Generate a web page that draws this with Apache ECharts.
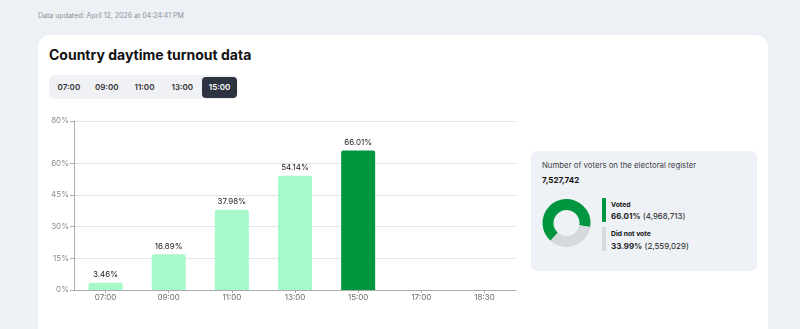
<!DOCTYPE html>
<html>
<head>
<meta charset="utf-8">
<script src="https://cdn.jsdelivr.net/npm/echarts@6/dist/echarts.min.js"></script>
<style>
  html, body { margin: 0; padding: 0; }
  body {
    width: 800px; height: 329px; overflow: hidden; position: relative;
    background: #edf0f5; font-family: Inter, "Noto Sans", sans-serif; color: #111;
  }
  .abs { position: absolute; white-space: nowrap; }
  #updated { left: 38px; top: 11px; font-size: 7px; color: #8a9099; line-height: 10px; }
  #card { left: 38px; top: 35px; width: 730px; height: 320px; background: #fff; border-radius: 12px; }
  #title { left: 49px; top: 46px; font-size: 14px; font-weight: 700; line-height: 18px; color: #111; }
  #tabs { left: 49px; top: 75px; height: 24px; width: 189px; padding: 0 1px; box-sizing: border-box; background: #eff1f4; border-radius: 5px; display: flex; align-items: center; }
  .tab { width: 38px; height: 21px; line-height: 21px; text-align: center; font-size: 8px; font-weight: 600; color: #333; border-radius: 4px; }
  .tab.active { width: 35px; margin-left: 1px; background: #2d3340; color: #fff; }
  #panel { left: 531px; top: 151px; width: 226px; height: 120px; background: #eef1f5; border-radius: 6px; }
  #regLabel { left: 542px; top: 160px; font-size: 7.8px; color: #3d4148; line-height: 10px; }
  #regTotal { left: 542px; top: 175px; font-size: 8px; font-weight: 700; color: #111; line-height: 10px; }
  .swatch { position: absolute; width: 4px; border-radius: 1px; }
  .lgName { font-size: 6.8px; font-weight: 700; color: #111; line-height: 9px; }
  .lgVal { font-size: 8px; color: #222; line-height: 10px; }
  .lgVal b { font-weight: 700; }
  #chart { position: absolute; left: 0; top: 0; width: 800px; height: 329px; }
</style>
</head>
<body>
<div id="updated" class="abs">Data updated: April 12, 2026 at 04:24:41 PM</div>
<div id="card" class="abs"></div>
<div id="title" class="abs">Country daytime turnout data</div>
<div id="tabs" class="abs"></div>
<div id="panel" class="abs"></div>
<div id="regLabel" class="abs">Number of voters on the electoral register</div>
<div id="regTotal" class="abs"></div>
<div id="legend"></div>
<div id="chart"></div>
<script>
// Reporting times and cumulative turnout (%) at each one
const hours = ['07:00', '09:00', '11:00', '13:00', '15:00', '17:00', '18:30'];
const turnout = [3.46, 16.89, 37.98, 54.14, 66.01, null, null];
const activeHour = '15:00';
const yTicks = [0, 15, 30, 45, 60, 80];

// Register totals for the selected time
const registered = 7527742;
const votedCount = 4968713;
const notVotedCount = 2559029;
const votedPct = 66.01;
const notVotedPct = 33.99;

const GREEN = '#00953f';
const MINT = '#a6f9c8';
const GREY = '#d5d9dd';

const fmt = n => n.toLocaleString('en-US');

// Time tabs
const tabs = document.getElementById('tabs');
hours.slice(0, 5).forEach(h => {
  const t = document.createElement('div');
  t.className = 'tab' + (h === activeHour ? ' active' : '');
  t.textContent = h;
  tabs.appendChild(t);
});

document.getElementById('regTotal').textContent = fmt(registered);

// Legend beside the donut
const legend = document.getElementById('legend');
legend.innerHTML =
  '<div class="swatch" style="left:602px;top:198px;height:24px;background:' + GREEN + '"></div>' +
  '<div class="abs lgName" style="left:611px;top:200px">Voted</div>' +
  '<div class="abs lgVal" style="left:611px;top:211px"><b>' + votedPct.toFixed(2) + '%</b> (' + fmt(votedCount) + ')</div>' +
  '<div class="swatch" style="left:602px;top:227px;height:24px;background:' + GREY + '"></div>' +
  '<div class="abs lgName" style="left:611px;top:229px">Did not vote</div>' +
  '<div class="abs lgVal" style="left:611px;top:241px"><b>' + notVotedPct.toFixed(2) + '%</b> (' + fmt(notVotedCount) + ')</div>';

const chart = echarts.init(document.getElementById('chart'), null, { renderer: 'canvas' });
chart.setOption({
  animation: false,
  textStyle: { fontFamily: 'Inter, "Noto Sans", sans-serif' },
  grid: { left: 74, right: 284, top: 121, bottom: 39, containLabel: false },
  xAxis: {
    type: 'category',
    data: hours,
    axisLine: { lineStyle: { color: '#a9acb1', width: 1 } },
    axisTick: { show: true, alignWithLabel: true, length: 3, lineStyle: { color: '#a9acb1' } },
    axisLabel: { color: '#666a70', fontSize: 8, margin: 4 }
  },
  yAxis: {
    type: 'value',
    min: 0,
    max: 80,
    axisLine: { show: true, lineStyle: { color: '#a9acb1', width: 1 } },
    axisTick: { show: true, length: 4, customValues: yTicks, lineStyle: { color: '#a9acb1' } },
    axisLabel: { customValues: yTicks, color: '#8a8d92', fontSize: 8, margin: 5, formatter: v => v + '%' },
    splitLine: { show: true, lineStyle: { color: '#e4e5e8', width: 1 } }
  },
  series: [
    {
      type: 'bar',
      barWidth: 34,
      data: turnout.map((v, i) => ({
        value: v,
        itemStyle: { color: hours[i] === activeHour ? GREEN : MINT, borderRadius: [2, 2, 0, 0] }
      })),
      label: {
        show: true,
        position: 'top',
        distance: 4,
        color: '#222',
        fontSize: 8,
        formatter: p => (p.value == null ? '' : p.value.toFixed(2) + '%')
      }
    },
    {
      type: 'pie',
      center: [566.5, 223],
      radius: [13, 24],
      startAngle: 228,
      clockwise: true,
      silent: true,
      label: { show: false },
      labelLine: { show: false },
      data: [
        { name: 'Voted', value: votedPct, itemStyle: { color: GREEN } },
        { name: 'Did not vote', value: notVotedPct, itemStyle: { color: GREY } }
      ]
    }
  ]
});
</script>
</body>
</html>
